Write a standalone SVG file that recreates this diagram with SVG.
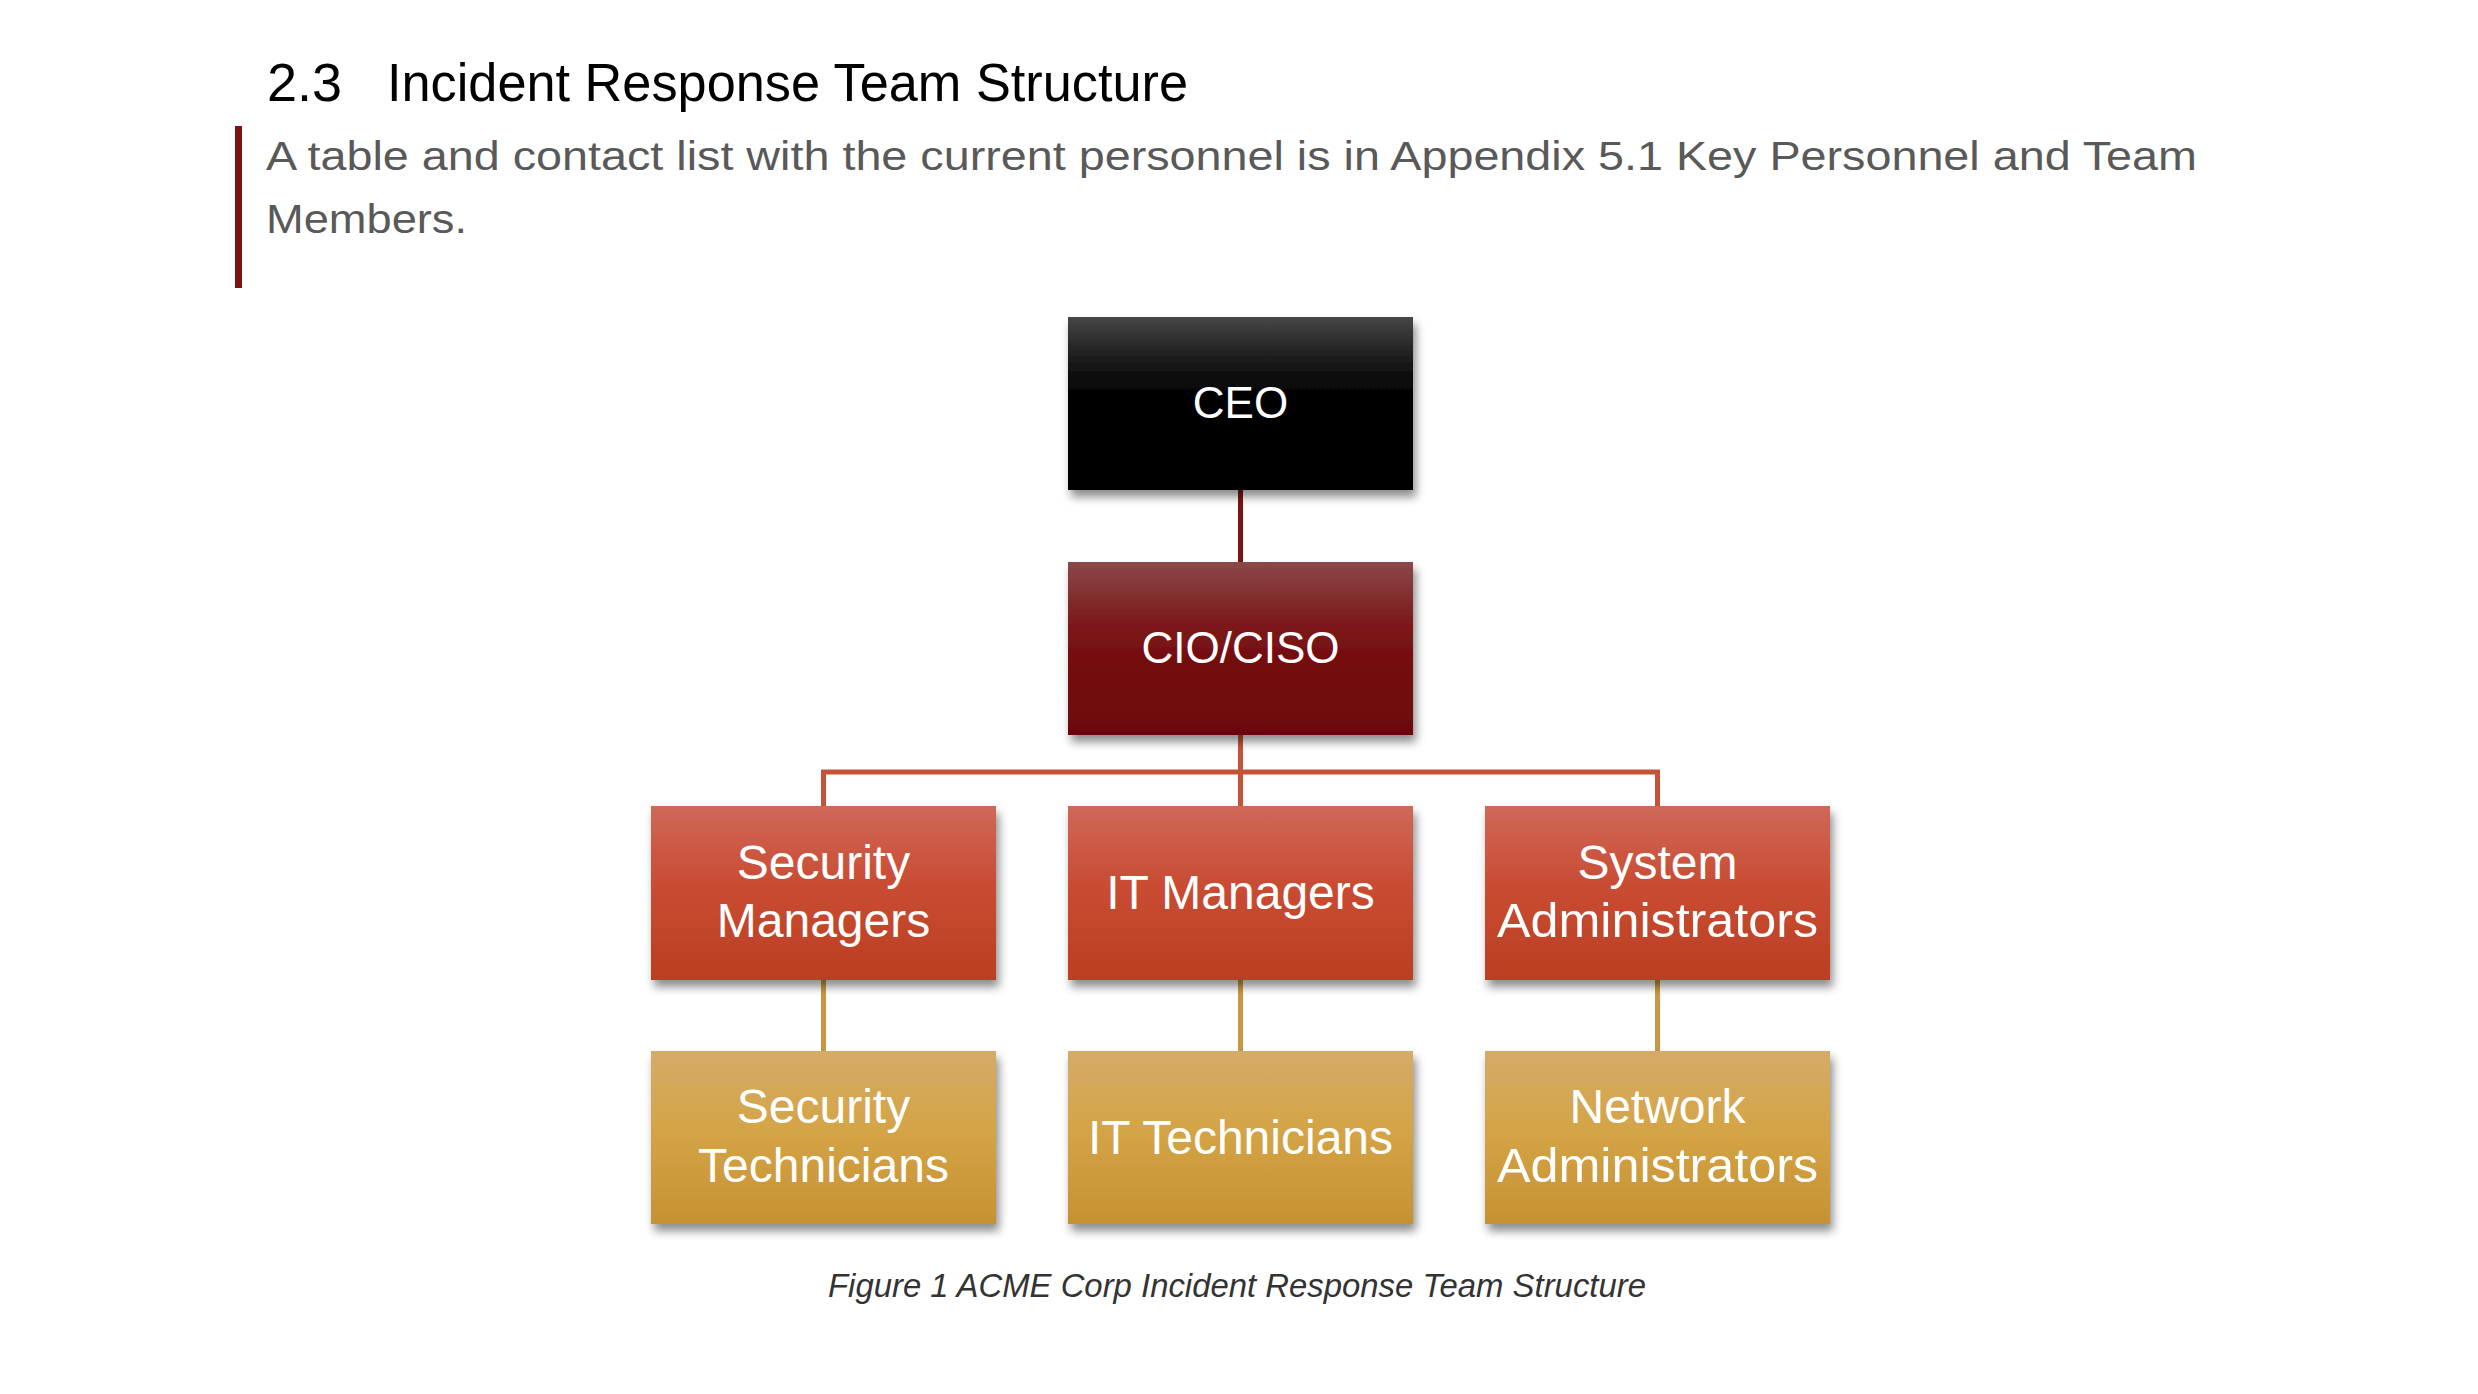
<svg xmlns="http://www.w3.org/2000/svg" width="2478" height="1394" viewBox="0 0 2478 1394">
<style>
.box{filter:url(#sh)}
.lbl{font-family:"Liberation Sans",Arial,sans-serif;fill:#ffffff;text-anchor:middle}
.l1{font-size:44px}
.l2{font-size:48px}
.c{fill:none;stroke-width:5}
</style>
<defs>
<linearGradient id="gCEO" x1="0" y1="0" x2="0" y2="1">
<stop offset="0" stop-color="#474747"/><stop offset="0.18" stop-color="#262626"/><stop offset="0.35" stop-color="#0c0c0c"/><stop offset="0.5" stop-color="#000000"/><stop offset="1" stop-color="#000000"/>
</linearGradient>
<linearGradient id="gCIO" x1="0" y1="0" x2="0" y2="1">
<stop offset="0" stop-color="#8b4849"/><stop offset="0.35" stop-color="#7c1a1c"/><stop offset="0.6" stop-color="#740b0d"/><stop offset="1" stop-color="#6c0608"/>
</linearGradient>
<linearGradient id="gMgr" x1="0" y1="0" x2="0" y2="1">
<stop offset="0" stop-color="#cf6858"/><stop offset="0.45" stop-color="#c94c33"/><stop offset="1" stop-color="#bb3e22"/>
</linearGradient>
<linearGradient id="gTec" x1="0" y1="0" x2="0" y2="1">
<stop offset="0" stop-color="#d5ab68"/><stop offset="0.45" stop-color="#d4a447"/><stop offset="1" stop-color="#c69231"/>
</linearGradient>
<filter id="sh" x="-10%" y="-10%" width="125%" height="135%">
<feDropShadow dx="3" dy="7" stdDeviation="5" flood-color="#000" flood-opacity="0.45"/>
</filter>
</defs>
<rect width="2478" height="1394" fill="#ffffff"/>

<g id="heading">
<text x="267" y="101" font-family="'Liberation Sans',Arial,sans-serif" font-size="54" fill="#000">2.3</text>
<text x="387" y="101" font-family="'Liberation Sans',Arial,sans-serif" font-size="54" fill="#000" textLength="801" lengthAdjust="spacingAndGlyphs">Incident Response Team Structure</text>
</g>
<g id="quote">
<rect x="235" y="126" width="7" height="162" fill="#7a1414"/>
<text x="266" y="170" font-family="'Liberation Sans',Arial,sans-serif" font-size="40" fill="#595959" textLength="1931" lengthAdjust="spacingAndGlyphs">A table and contact list with the current personnel is in Appendix 5.1 Key Personnel and Team</text>
<text x="266" y="233" font-family="'Liberation Sans',Arial,sans-serif" font-size="40" fill="#595959" textLength="201" lengthAdjust="spacingAndGlyphs">Members.</text>
</g>

<g id="connectors">
<line class="c" x1="1240.5" y1="490" x2="1240.5" y2="562" stroke="#7a1414"/>
<path class="c" d="M1240.5 735 V806 M823.5 806 V772 H1657.5 V806" stroke="#c5533a"/>
<line class="c" x1="823.5" y1="980" x2="823.5" y2="1051" stroke="#c9973f"/>
<line class="c" x1="1240.5" y1="980" x2="1240.5" y2="1051" stroke="#c9973f"/>
<line class="c" x1="1657.5" y1="980" x2="1657.5" y2="1051" stroke="#c9973f"/>
</g>

<g id="ceo">
<rect class="box" x="1068" y="317" width="345" height="173" fill="url(#gCEO)"/>
<text class="lbl l1" x="1240.5" y="418">CEO</text>
</g>
<g id="cio">
<rect class="box" x="1068" y="562" width="345" height="173" fill="url(#gCIO)"/>
<text class="lbl l1" x="1240.5" y="663">CIO/CISO</text>
</g>
<g id="security-managers">
<rect class="box" x="651" y="806" width="345" height="174" fill="url(#gMgr)"/>
<text class="lbl l2" x="823.5" y="879">Security</text>
<text class="lbl l2" x="823.5" y="937">Managers</text>
</g>
<g id="it-managers">
<rect class="box" x="1068" y="806" width="345" height="174" fill="url(#gMgr)"/>
<text class="lbl l2" x="1240.5" y="909">IT Managers</text>
</g>
<g id="system-administrators">
<rect class="box" x="1485" y="806" width="345" height="174" fill="url(#gMgr)"/>
<text class="lbl l2" x="1657.5" y="879">System</text>
<text class="lbl l2" x="1657.5" y="937" textLength="321" lengthAdjust="spacingAndGlyphs">Administrators</text>
</g>
<g id="security-technicians">
<rect class="box" x="651" y="1051" width="345" height="173" fill="url(#gTec)"/>
<text class="lbl l2" x="823.5" y="1123">Security</text>
<text class="lbl l2" x="823.5" y="1182">Technicians</text>
</g>
<g id="it-technicians">
<rect class="box" x="1068" y="1051" width="345" height="173" fill="url(#gTec)"/>
<text class="lbl l2" x="1240.5" y="1154">IT Technicians</text>
</g>
<g id="network-administrators">
<rect class="box" x="1485" y="1051" width="345" height="173" fill="url(#gTec)"/>
<text class="lbl l2" x="1657.5" y="1123">Network</text>
<text class="lbl l2" x="1657.5" y="1182" textLength="321" lengthAdjust="spacingAndGlyphs">Administrators</text>
</g>

<g id="caption">
<text x="828" y="1297" font-family="'Liberation Sans',Arial,sans-serif" font-size="33" font-style="italic" fill="#333333" textLength="818" lengthAdjust="spacingAndGlyphs">Figure 1 ACME Corp Incident Response Team Structure</text>
</g>
</svg>
